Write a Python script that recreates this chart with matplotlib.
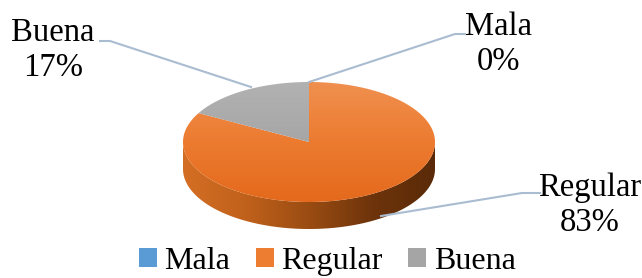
import numpy as np
import matplotlib.pyplot as plt
from matplotlib.patches import Polygon, Patch
from matplotlib.colors import LinearSegmentedColormap

########### Data ###########
categories = ['Mala', 'Regular', 'Buena']
values = [0, 83, 17]
colors = ['#5B9BD5', '#ED7D31', '#A5A5A5']

########### Layout (pixels) ###########
W, H = 642, 278
cx, cy = 309, 142      # centre of the top face
rx, ry = 126, 60       # ellipse radii
depth = 27             # thickness of the pie

label_pos = {'Mala': (498, 44), 'Regular': (590, 205), 'Buena': (53, 50)}
leaders = {
    'Mala': [(465, 34), (455, 34), (309, 82)],
    'Regular': [(540, 193), (522, 193), (381, 216)],
    'Buena': [(100, 41), (110, 41), (251, 87)],
}

plt.rcParams['font.family'] = ['Liberation Serif', 'DejaVu Serif']

fig = plt.figure(figsize=(W / 100, H / 100), dpi=100)
ax = fig.add_axes([0, 0, 1, 1])
ax.set_xlim(0, W)
ax.set_ylim(H, 0)
ax.axis('off')


def ell(t):
    return cx + rx * np.cos(t), cy - ry * np.sin(t)


# side of the pie (front half, only the orange slice shows there)
t = np.linspace(np.pi, 2 * np.pi, 200)
xs, ys = ell(t)
side = np.vstack([np.column_stack([xs, ys]),
                  np.column_stack([xs[::-1], ys[::-1] + depth])])
side_patch = Polygon(side, closed=True, facecolor='none', edgecolor='none')
ax.add_patch(side_patch)
side_cmap = LinearSegmentedColormap.from_list(
    'side', ['#D46E24', '#C0611B', '#9A4C12', '#6E340B', '#5A2A08'])
grad = np.linspace(0, 1, 256).reshape(1, -1)
im = ax.imshow(grad, cmap=side_cmap, aspect='auto',
               extent=[cx - rx, cx + rx, cy + ry + depth, cy - 2], zorder=1)
im.set_clip_path(side_patch)

# top face, slices clockwise from 12 o'clock
total = sum(values)
start = np.pi / 2
tops = {'#ED7D31': ['#F0904F', '#EC7B30', '#E4691C'],
        '#A5A5A5': ['#B2B2B2', '#A6A6A6', '#9C9C9C']}
for name, v, c in zip(categories, values, colors):
    if v == 0:
        continue
    end = start - 2 * np.pi * v / total
    tt = np.linspace(start, end, 200)
    px, py = ell(tt)
    pts = np.vstack([[cx, cy], np.column_stack([px, py])])
    wp = Polygon(pts, closed=True, facecolor='none', edgecolor='none', zorder=2)
    ax.add_patch(wp)
    cm = LinearSegmentedColormap.from_list(name, tops[c])
    g = np.linspace(0, 1, 256).reshape(-1, 1)
    im2 = ax.imshow(g, cmap=cm, aspect='auto',
                    extent=[cx - rx, cx + rx, cy + ry, cy - ry], zorder=2)
    im2.set_clip_path(wp)
    start = end

# leader lines and labels
for name, v in zip(categories, values):
    lx, ly = zip(*leaders[name])
    ax.plot(lx, ly, color='#A9BCD0', lw=1.5, zorder=3)
    x, y = label_pos[name]
    ax.text(x, y, f'{name}\n{v / total * 100:.0f}%', ha='center', va='center',
            fontsize=23.5, linespacing=1.2, color='black')

handles = [Patch(facecolor=c, edgecolor='none') for c in colors]
ax.legend(handles, categories, loc='lower center', bbox_to_anchor=(0.51, -0.095),
          ncol=3, frameon=False, fontsize=23, handlelength=0.55, handleheight=0.55,
          handletextpad=0.25, columnspacing=0.8)

fig.savefig('out.png', dpi=100)
